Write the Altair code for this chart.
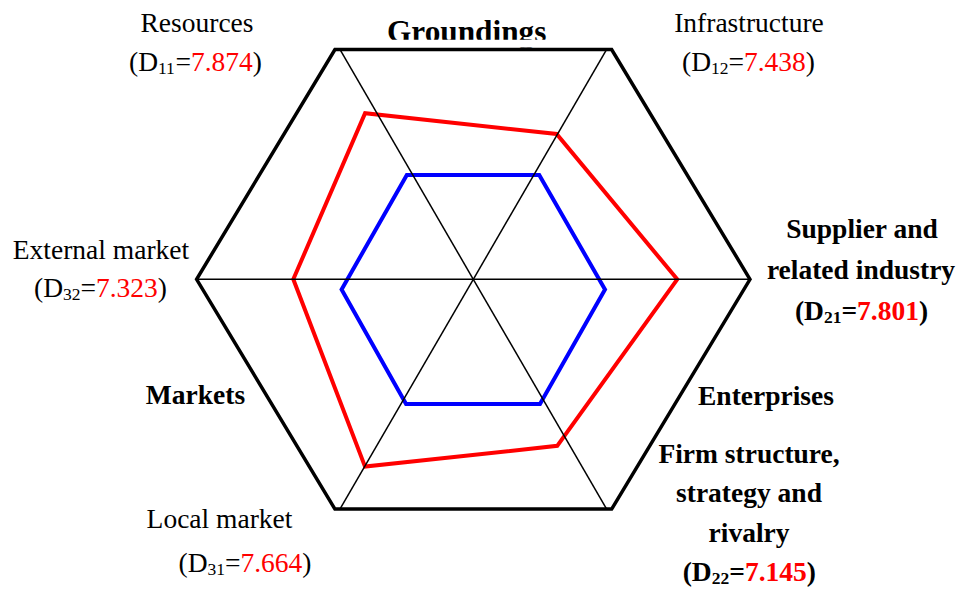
import altair as alt
import pandas as pd
import numpy as np

# ---------------- data ----------------
axis_names = ["Supplier and related industry", "Infrastructure", "Resources",
              "External market", "Local market", "Firm structure, strategy and rivalry"]
axis_codes = ["21", "12", "11", "32", "31", "22"]
axis_scores = ["7.801", "7.438", "7.874", "7.323", "7.664", "7.145"]
axis_angles = [0, 60, 120, 180, 240, 300]
# drawn vertices of each polygon: radius (fraction of the outer hexagon) and angle
red_radii = [0.737, 0.625, 0.738, 0.6505, 0.807, 0.697]
red_angles = [0, 61.2, 122.0, 180, 241.0, 295.8]
blue_radii = [0.476, 0.493, 0.494, 0.476, 0.495, 0.494]
blue_angles = [0, 61.1, 119.1, 180, 240.6, 299.2]
outer_radii = [1.0, 1.0, 1.0, 1.0, 1.0, 1.0]
group_names = ["Groundings", "Enterprises", "Markets"]

# ---------------- layout ----------------
W, H = 949, 580
CX, CY = 473.3, 279.3          # centre of the web on the page
KX, KY = 276.7, 265.36         # pixels per unit radius (x, y)
XMIN = -(CX - 8) / KX
XMAX = XMIN + W / KX
YMAX = (CY - 8) / KY
YMIN = YMAX - H / KY
BLUE_DY = -10.2 / KY           # the blue hexagon sits slightly low
SPOKE_TILT = 0.9               # spokes meet the edges just inside the corners
FONT = "Liberation Serif"
S, SUB = 27.5, 17.5


def to_data(xp, yp):
    return (xp - CX) / KX, (CY - yp) / KY


xs = alt.Scale(domain=[XMIN, XMAX], nice=False, zero=False)
ys = alt.Scale(domain=[YMIN, YMAX], nice=False, zero=False)


def polygon(radii, angles, dy=0.0):
    rows = []
    for k, (a, r) in enumerate(zip(angles, radii)):
        t = np.deg2rad(a)
        rows.append({"k": k, "u": r * np.cos(t), "v": r * np.sin(t) + dy})
    return pd.DataFrame(rows)


def poly_layer(df, color, width):
    return alt.Chart(df).mark_line(
        interpolate="linear-closed", strokeJoin="miter", strokeWidth=width, color=color
    ).encode(
        x=alt.X("u:Q", scale=xs, axis=None),
        y=alt.Y("v:Q", scale=ys, axis=None),
        order=alt.Order("k:Q"),
    )


# spokes
sp = []
for a in axis_angles:
    if a % 180 == 0:
        ang, length = a, 1.0
    else:
        tilt = SPOKE_TILT if (a % 180) < 90 else -SPOKE_TILT
        ang = a + tilt
        length = np.sin(np.deg2rad(60)) / abs(np.sin(np.deg2rad(ang)))
    t = np.deg2rad(ang)
    sp.append({"u0": 0.0, "v0": 0.0, "u1": length * np.cos(t), "v1": length * np.sin(t)})
spokes = alt.Chart(pd.DataFrame(sp)).mark_rule(color="black", strokeWidth=1.5).encode(
    x=alt.X("u0:Q", scale=xs, axis=None), y=alt.Y("v0:Q", scale=ys, axis=None),
    x2="u1:Q", y2="v1:Q",
)

# ---------------- text ----------------
plain_rows = []


def plain(text, xp, yp, bold, size=S):
    u, v = to_data(xp, yp)
    plain_rows.append({"t": text, "u": u, "v": v, "fs": size, "b": bold})


plain("Resources", 197, 32, False)
plain("Infrastructure", 749, 32, False)
plain("External market", 101, 259, False)
plain("Local market", 219.5, 528, False)
plain(group_names[0], 466.7, 41.7, True, 31.3)
plain("Supplier and", 862, 238, True)
plain("related industry", 861, 279, True)
plain(group_names[1], 766, 405, True)
plain("Firm structure,", 749, 462.5, True)
plain("strategy and", 749, 502, True)
plain("rivalry", 749, 541.5, True)
plain(group_names[2], 195.5, 404, True)
plain_df = pd.DataFrame(plain_rows)

# composite "(Dxx=value)" labels, built from pieces with Times metrics
REG = {"(": 0.333, "D": 0.722, "=": 0.564, ")": 0.333, ".": 0.25}
BLD = {"(": 0.333, "D": 0.722, "=": 0.570, ")": 0.333, ".": 0.25}


def text_w(s, size, bold):
    m = BLD if bold else REG
    return sum(m.get(ch, 0.5) for ch in s) * size


label_pos = {  # code -> (centre x, baseline y, bold)
    "11": (195.5, 70.7, False),
    "12": (748.5, 71.0, False),
    "21": (861.5, 320.0, True),
    "22": (749.3, 581.0, True),
    "31": (245.0, 572.0, False),
    "32": (100.5, 297.0, False),
}
comp_rows = []
for code, score in zip(axis_codes, axis_scores):
    cxp, byp, bold = label_pos[code]
    pieces = [("(D", S, "black", 0), (code, SUB, "black", 3), ("=", S, "black", 0),
              (score, S, "#ff0000", 0), (")", S, "black", 0)]
    total = sum(text_w(p[0], p[1], bold) for p in pieces)
    x = cxp - total / 2
    for txt, size, col, dy in pieces:
        u, v = to_data(x, byp + dy)
        comp_rows.append({"t": txt, "u": u, "v": v, "fs": size, "c": col, "b": bold})
        x += text_w(txt, size, bold)
comp_df = pd.DataFrame(comp_rows)


def text_layer(df, bold, align, with_color):
    enc = dict(
        x=alt.X("u:Q", scale=xs, axis=None),
        y=alt.Y("v:Q", scale=ys, axis=None),
        text="t:N",
        size=alt.Size("fs:Q", scale=None, legend=None),
    )
    if with_color:
        enc["color"] = alt.Color("c:N", scale=None, legend=None)
    mk = alt.Chart(df[df["b"] == bold]).mark_text(
        align=align, baseline="alphabetic", font=FONT,
        fontWeight="bold" if bold else "normal", color="black",
    )
    return mk.encode(**enc)


# the title "Groundings" is cut just above the hexagon's top edge
mx0, my0 = to_data(380, 39.8)
mx1, my1 = to_data(556, 47.6)
mask = alt.Chart(pd.DataFrame([{"a": mx0, "b": my0, "c": mx1, "d": my1}])).mark_rect(
    color="white").encode(
    x=alt.X("a:Q", scale=xs, axis=None), y=alt.Y("b:Q", scale=ys, axis=None),
    x2="c:Q", y2="d:Q")

chart = alt.layer(
    text_layer(plain_df, False, "center", False),
    text_layer(plain_df, True, "center", False),
    text_layer(comp_df, False, "left", True),
    text_layer(comp_df, True, "left", True),
    mask,
    poly_layer(polygon(blue_radii, blue_angles, BLUE_DY), "#0000ff", 4),
    poly_layer(polygon(red_radii, red_angles), "#ff0000", 4),
    spokes,
    poly_layer(polygon(outer_radii, axis_angles), "black", 3.5),
).properties(
    width=W, height=H, padding=0, autosize=alt.AutoSizeParams(type="none"),
    background="white",
).configure_view(stroke=None)

chart.save("out.html", embed_options={"renderer": "svg", "actions": False})
